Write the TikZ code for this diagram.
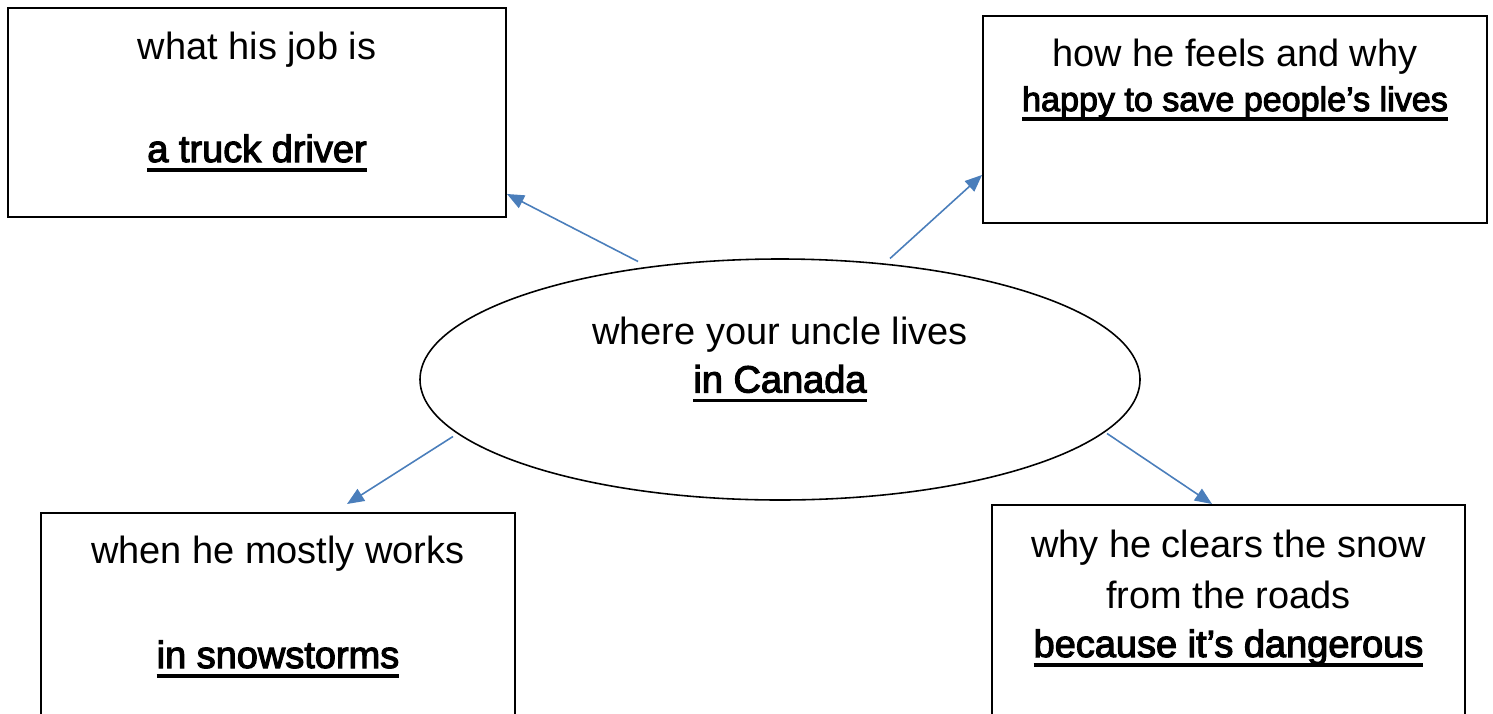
\documentclass[tikz,border=0pt]{standalone}
\usepackage{fontspec}
\setmainfont{Liberation Sans}
\newfontfamily\boldans[FakeBold=3]{Liberation Sans}
\usetikzlibrary{arrows.meta,shapes.geometric}
\definecolor{linkblue}{RGB}{74,126,187}
\newcommand\thickul[1]{\setbox0\hbox{#1}\rlap{\vrule height -3.6pt depth 5.4pt width \wd0}\box0}

\begin{document}
\begin{tikzpicture}[
        box/.style={draw, rectangle, line width=1.1pt, inner sep=0pt},
        txt/.style={anchor=base, inner sep=0pt, font=\fontsize{21.6}{26}\selectfont},
        ans/.style={txt, font=\boldans\fontsize{21.6}{26}\selectfont},
        link/.style={draw=linkblue, line width=0.9pt, -{Triangle[length=0.34cm, width=0.28cm]}}
    ]
        \useasboundingbox (0,0) rectangle (29.86,-14.26);
        \clip (0,0) rectangle (29.86,-14.26);

        % Box 1: job
        \node [box, minimum width=9.96cm, minimum height=4.18cm] (job) at (5.14,-2.25) {};
        \node [txt] (jobq) at ([yshift=-1.04cm]job.north) {what his job is};
        \node [ans] (joba) at ([yshift=-3.10cm]job.north) {\thickul{a truck driver}};

        % Box 2: feelings
        \node [box, minimum width=10.08cm, minimum height=4.14cm] (feel) at (24.70,-2.39) {};
        \node [txt] (feelq) at ([yshift=-1.02cm]feel.north) {how he feels and why};
        \node [ans, font=\boldans\fontsize{19.4}{24}\selectfont] (feela) at ([yshift=-1.92cm]feel.north) {\thickul{happy to save people’s lives}};

        % Centre: where he lives
        \node [ellipse, draw, line width=0.9pt, inner sep=0pt, minimum width=14.4cm, minimum height=4.82cm] (uncle) at (15.6,-7.59) {};
        \node [txt] (uncleq) at ([yshift=0.70cm]uncle.center) {where your uncle lives};
        \node [ans] (unclea) at ([yshift=-0.26cm]uncle.center) {\thickul{in Canada}};

        % Box 3: when
        \node [box, anchor=north west, minimum width=9.48cm, minimum height=4.6cm] (when) at (0.80,-10.24) {};
        \node [txt] (whenq) at ([yshift=-1.02cm]when.north) {when he mostly works};
        \node [ans] (whena) at ([yshift=-3.12cm]when.north) {\thickul{in snowstorms}};

        % Box 4: why
        \node [box, anchor=north west, minimum width=9.46cm, minimum height=4.6cm] (why) at (19.82,-10.08) {};
        \node [txt] (whyq) at ([yshift=-1.06cm]why.north) {why he clears the snow};
        \node [txt] (whyq2) at ([yshift=-2.08cm]why.north) {from the roads};
        \node [ans] (whya) at ([yshift=-3.06cm]why.north) {\thickul{because it’s dangerous}};

        % Arrows
        \draw [link] ([shift={(-2.84,2.36)}]uncle.center) -- ([yshift=0.48cm]job.south east);
        \draw [link] ([shift={(2.2,2.42)}]uncle.center) -- ([yshift=0.98cm]feel.south west);
        \draw [link] ([shift={(-6.54,-1.14)}]uncle.center) -- ([shift={(6.14,0.16)}]when.north west);
        \draw [link] ([shift={(6.54,-1.08)}]uncle.center) -- ([xshift=4.42cm]why.north west);
    \end{tikzpicture}
\end{document}
